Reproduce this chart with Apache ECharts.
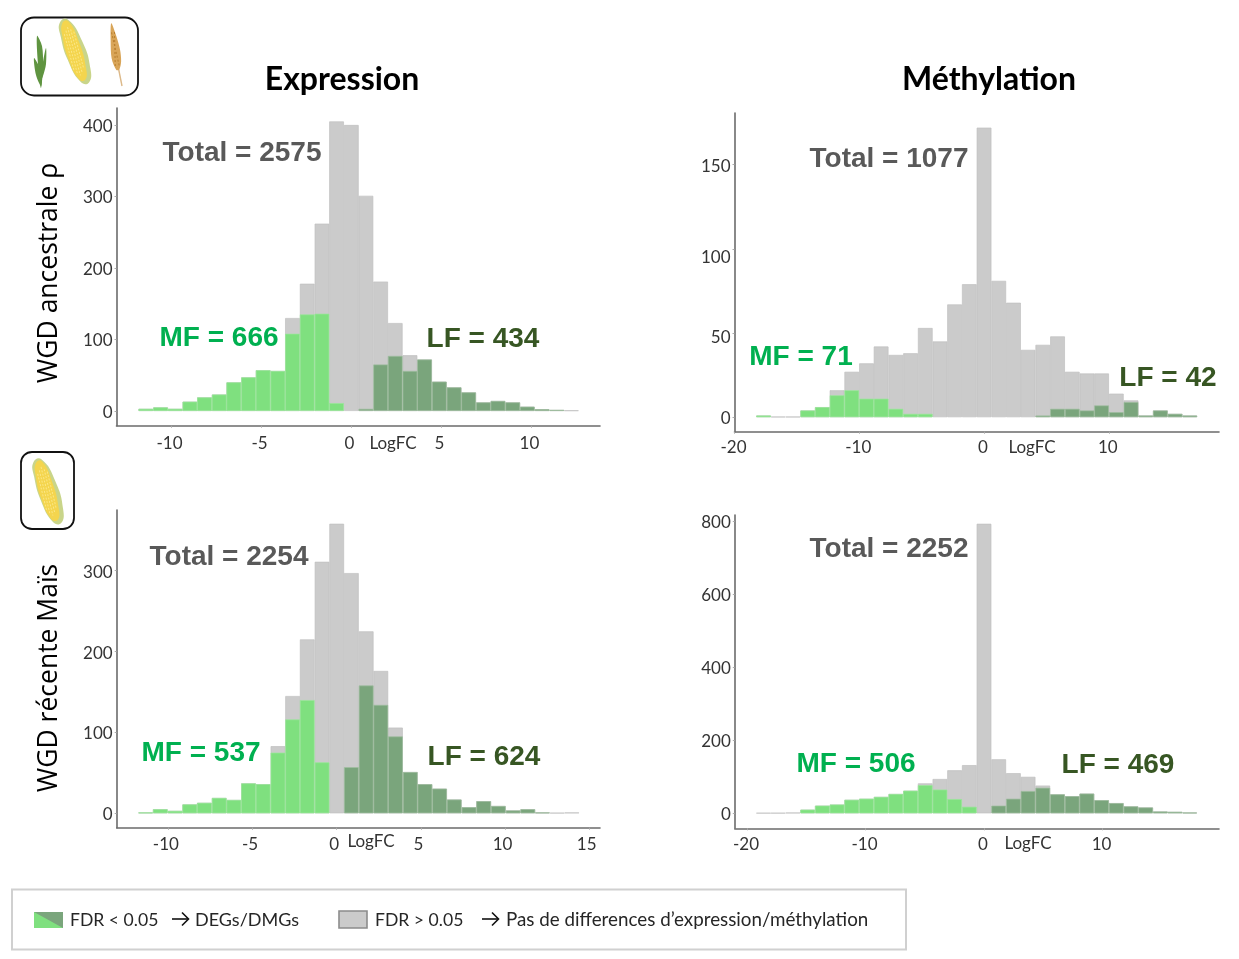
<!DOCTYPE html>
<html><head><meta charset="utf-8">
<style>html,body{margin:0;padding:0;background:#fff}#c{width:1239px;height:959px}</style>
<script src="https://cdn.jsdelivr.net/npm/echarts@6/dist/echarts.min.js"></script>
</head><body><div id="c"></div>
<script>
// ---- data (bin centre, all genes, significant MF, significant LF)
const binsA=[-11.43,-10.61,-9.80,-8.98,-8.17,-7.35,-6.54,-5.72,-4.91,-4.09,-3.28,-2.46,-1.64,-0.83,-0.01,0.80,1.62,2.43,3.25,4.06,4.88,5.70,6.51,7.33,8.14,8.96,9.77,10.59,11.41,12.22];
const totalA=[3,5,3,13,19,23,40,47,57,56,130,178,262,405,400,301,181,123,78,72,41,33,26,12,14,12,6,2.5,1.5,0.8];
const mfA=[3,5,3,13,19,23,40,47,57,56,108,135,136,11,null,null,null,null,null,null,null,null,null,null,null,null,null,null,null,null];
const lfA=[null,null,null,null,null,null,null,null,null,null,null,null,null,null,null,3,65,77,56,72,41,33,26,12,14,12,6,2.5,1.5,null];

const binsB=[-17.67,-16.49,-15.31,-14.13,-12.96,-11.78,-10.60,-9.42,-8.25,-7.07,-5.89,-4.71,-3.53,-2.36,-1.18,0,1.18,2.36,3.53,4.71,5.89,7.07,8.25,9.42,10.60,11.78,12.96,14.13,15.31,16.49];
const totalB=[1,0.3,0.3,4,6,16,27,32,42,37,38,53,45,67,79,172,81,68,40,43,48,27,26,26,14,10,1,4,2,1];
const mfB=[1,null,null,4,6,13,16,11,11,5,2,2,null,null,null,null,null,null,null,null,null,null,null,null,null,null,null,null,null,null];
const lfB=[null,null,null,null,null,null,null,null,null,null,null,null,null,null,null,null,null,null,null,1,5,5,4,7,3,9,1,4,2,1];

const binsC=[-11.35,-10.48,-9.60,-8.73,-7.86,-6.98,-6.11,-5.24,-4.37,-3.49,-2.62,-1.75,-0.87,0,0.87,1.75,2.62,3.49,4.37,5.24,6.11,6.98,7.86,8.73,9.60,10.48,11.35,12.22,13.10,13.97];
const totalC=[1,5,3,11,13,19,16.5,37,36,83,145,215,311,358,297,225,176,106,51,36,30.5,17,7.5,15,9,3.5,5,1,0.5,1];
const mfC=[1,5,3,11,13,19,16.5,37,36,75,116,140,63,null,null,null,null,null,null,null,null,null,null,null,null,null,null,null,null,null];
const lfC=[null,null,null,null,null,null,null,null,null,null,null,null,null,null,57,158,134,95,51,36,30.5,17,7.5,15,9,3.5,5,1,null,null];

const binsD=[-18.6,-17.36,-16.12,-14.88,-13.64,-12.4,-11.16,-9.92,-8.68,-7.44,-6.2,-4.96,-3.72,-2.48,-1.24,0,1.24,2.48,3.72,4.96,6.2,7.44,8.68,9.92,11.16,12.4,13.64,14.88,16.12,17.36];
const totalD=[1,1,2,10,21,24,37,40,45,53,62,82,94,118,132,793,148,110,100,76,52,47,54,36,28,19,16,5,4,2];
const mfD=[null,null,null,10,21,24,37,40,45,53,62,77,65,39,18,null,null,null,null,null,null,null,null,null,null,null,null,null,null,null];
const lfD=[null,null,null,null,null,null,null,null,null,null,null,null,null,null,null,null,21,40,61,70,52,47,54,36,28,19,16,5,4,2];

const xTicksA=[-10,-5,0,5,10], yTicksA=[0,100,200,300,400];
const xTicksB=[-20,-10,0,10],  yTicksB=[0,50,100,150];
const xTicksC=[-10,-5,0,5,10,15], yTicksC=[0,100,200,300];
const xTicksD=[-20,-10,0,10],  yTicksD=[0,200,400,600,800];

const columnTitles=['Expression','Méthylation'];
const rowTitles=['WGD ancestrale ρ','WGD récente Maïs'];
const totalsText=['Total = 2575','Total = 1077','Total = 2254','Total = 2252'];
const mfText=['MF = 666','MF = 71','MF = 537','MF = 506'];
const lfText=['LF = 434','LF = 42','LF = 624','LF = 469'];
const axisWord='LogFC';
const legendText=['FDR < 0.05','DEGs/DMGs','FDR > 0.05','Pas de differences d’expression/méthylation'];

// ---- styling
const GREY='#cbcbcb',GREEN='#7fe07f',DARK='#7aa57c';
const SANS='"Liberation Sans",Arial,sans-serif', CAL='Lato,"Open Sans",sans-serif';

const panels=[
 {bins:binsA,tot:totalA,mf:mfA,lf:lfA,xt:xTicksA,yt:yTicksA,l:116.5,t:108,r:600,b:425.7,x:[-13.06,13.81],y:[-20.6,423.8],shift:2,m:9},
 {bins:binsB,tot:totalB,mf:mfB,lf:lfB,xt:xTicksB,yt:yTicksB,l:734.5,t:113,r:1219,b:431.7,x:[-20,18.83],y:[-8.6,180.7],shift:1,m:7},
 {bins:binsC,tot:totalC,mf:mfC,lf:lfC,xt:xTicksC,yt:yTicksC,l:116.7,t:510,r:600,b:827.7,x:[-13.07,15.64],y:[-17.8,375],shift:2.5,m:8},
 {bins:binsD,tot:totalD,mf:mfD,lf:lfD,xt:xTicksD,yt:yTicksD,l:734.8,t:515,r:1219,b:828.3,x:[-21.03,19.83],y:[-41,817],shift:1,m:8}
];
const W=1239,H=959;
const pair=(bins,vals)=>bins.map((b,i)=>vals[i]==null?null:[b,vals[i]]).filter(Boolean);

const grid=[],xAxis=[],yAxis=[],series=[];
panels.forEach((p,i)=>{
  grid.push({left:p.l,top:p.t,width:p.r-p.l,height:p.b-p.t,containLabel:false});
  const line={show:true,onZero:false,lineStyle:{color:'#6b6b6b',width:1.6}};
  xAxis.push({type:'value',gridIndex:i,min:p.x[0],max:p.x[1],splitLine:{show:false},axisLine:line,
    axisTick:{show:true,length:2,lineStyle:{color:'#aaa'},customValues:p.xt},
    axisLabel:{customValues:p.xt,color:'#333',fontFamily:CAL,fontSize:17,margin:p.m,padding:[0,p.shift*2,0,0],hideOverlap:false,showMinLabel:true,showMaxLabel:true}});
  yAxis.push({type:'value',gridIndex:i,min:p.y[0],max:p.y[1],splitLine:{show:false},axisLine:line,
    axisTick:{show:true,length:2,lineStyle:{color:'#aaa'},customValues:p.yt},
    axisLabel:{customValues:p.yt,color:'#333',fontFamily:CAL,fontSize:17,margin:4,padding:[3,0,0,0],showMinLabel:true,showMaxLabel:true,
      formatter:(i===1)?(v=>v===100?'{s|100}':v===50?'{m|50}':String(v)):undefined,
      rich:{s:{padding:[14,0,0,0],fontFamily:CAL,fontSize:17,color:'#333'},m:{padding:[6,0,0,0],fontFamily:CAL,fontSize:17,color:'#333'}}}});
  const common={type:'bar',xAxisIndex:i,yAxisIndex:i,barWidth:14.7,barGap:'-100%',animation:false,silent:true};
  series.push({...common,name:'FDR > 0.05',data:pair(p.bins,p.tot),itemStyle:{color:GREY,borderColor:'#c0c0c0',borderWidth:0.7}});
  series.push({...common,name:'MF',data:pair(p.bins,p.mf),itemStyle:{color:GREEN,borderColor:'#9ae89a',borderWidth:0.7}});
  series.push({...common,name:'LF',data:pair(p.bins,p.lf),itemStyle:{color:DARK,borderColor:'#9dbd9e',borderWidth:0.7}});
});

const g=[];
const txt=(text,x,y,font,fill,rot)=>g.push({type:'text',x,y,rotation:rot||0,silent:true,style:{text,font,fill,align:'center',verticalAlign:'middle'}});
// titles
txt(columnTitles[0],342,80,'bold 32px '+CAL,'#000');
txt(columnTitles[1],989,80,'bold 32px '+CAL,'#000');
txt(rowTitles[0],49,273,'26.5px "Open Sans",sans-serif','#000',Math.PI/2);
txt(rowTitles[1],49,678,'26.5px "Open Sans",sans-serif','#000',Math.PI/2);
// annotations
const ann=[[[242,153],[219,338],[483,339]],[[889,159],[801,357],[1168,378]],[[229,557],[201,753],[484,757]],[[889,549],[856,764],[1118,765]]];
ann.forEach((a,i)=>{
  txt(totalsText[i],a[0][0],a[0][1],'bold 28px '+SANS,'#595959');
  txt(mfText[i],a[1][0],a[1][1],'bold 28px '+SANS,'#00b050');
  txt(lfText[i],a[2][0],a[2][1],'bold 28px '+SANS,'#375623');
});
// LogFC
[[393,444],[1032,448],[371,842],[1028,844]].forEach(c=>txt(axisWord,c[0],c[1],'17px '+CAL,'#333'));
// legend
g.push({type:'rect',silent:true,shape:{x:12,y:889.5,width:894,height:60},style:{fill:'#fff',stroke:'#d0d0d0',lineWidth:2}});
g.push({type:'polygon',silent:true,shape:{points:[[34,912],[63,912],[63,928],[34,928]]},style:{fill:GREEN}});
g.push({type:'polygon',silent:true,shape:{points:[[34,912],[63,912],[63,928]]},style:{fill:DARK}});
g.push({type:'rect',silent:true,shape:{x:339,y:911,width:28,height:17},style:{fill:GREY,stroke:'#8c8c8c',lineWidth:1.6}});
const ltxt=(t,x,s)=>g.push({type:'text',x,y:920,silent:true,style:{text:t,font:s+'px '+CAL,fill:'#262626',align:'left',verticalAlign:'middle'}});
ltxt(legendText[0],70,17.6);ltxt(legendText[1],195,18);ltxt(legendText[2],375,17.6);ltxt(legendText[3],506,18.8);
const arrow=(x)=>{g.push({type:'polyline',silent:true,shape:{points:[[x,919],[x+16,919]]},style:{stroke:'#111',lineWidth:1.6,fill:null}});
  g.push({type:'polyline',silent:true,shape:{points:[[x+10,912.5],[x+16.5,919],[x+10,925.5]]},style:{stroke:'#111',lineWidth:1.6,fill:null}});};
arrow(172);arrow(482);
// pictogram boxes
g.push({type:'rect',silent:true,shape:{x:21,y:17.5,width:117,height:78,r:13},style:{fill:'#fff',stroke:'#111',lineWidth:1.8}});
g.push({type:'rect',silent:true,shape:{x:21,y:452,width:53,height:77,r:11},style:{fill:'#fff',stroke:'#111',lineWidth:1.8}});
function corn(x,y,rot){
  const kids=[
    {type:'polygon',shape:{points:[[-9,-32],[2,-33],[12,-8],[13,20],[7,33],[-3,30],[-11,6],[-12,-18]],smooth:0.5},style:{fill:'#c9d58a'}},
    {type:'polygon',shape:{points:[[-6,-31],[2,-31],[8,-8],[8,18],[4,29],[-4,27],[-10,5],[-10,-18]],smooth:0.5},style:{fill:'#f4d54e'}}
  ];
  [-7,-4,-1,2,5].forEach(d=>kids.push({type:'line',shape:{x1:d,y1:-26+Math.abs(d+1),x2:d,y2:24-Math.abs(d+1)},style:{stroke:'#fbe88a',lineWidth:1.1,lineDash:[2,1.5]}}));
  g.push({type:'group',x,y,rotation:rot,scaleX:0.82,scaleY:1,silent:true,children:kids});
}
corn(75,52,0.26);corn(48,492,0.24);
// young plant
[[[41,88],[38,64],[37,36],[42,46],[43,66]],[[41,86],[36,75],[34,58],[39,66],[42,76]],[[41,80],[43,62],[46,48],[46,64],[43,76]]].forEach(p=>
  g.push({type:'polygon',silent:true,shape:{points:p,smooth:0.3},style:{fill:'#5f9440'}}));
// ear of wheat
g.push({type:'line',silent:true,shape:{x1:118,y1:66,x2:122,y2:86},style:{stroke:'#dcb98a',lineWidth:1.4}});
g.push({type:'polygon',silent:true,x:115,y:50,rotation:0.14,shape:{points:[[0,-27],[3,-15],[5,0],[4.5,12],[1.5,20],[-1.5,20],[-4.5,8],[-3,-10]],smooth:0.3},style:{fill:'#d9a558'}});
[[-1,-18,2,16],[2,-18,-2,16]].forEach(l=>g.push({type:'line',silent:true,x:115,y:50,rotation:0.14,shape:{x1:l[0],y1:l[1],x2:l[2],y2:l[3]},style:{stroke:'#b97f2f',lineWidth:1,lineDash:[2,2]}}));

const chart=echarts.init(document.getElementById('c'),null,{renderer:'canvas',width:W,height:H});
chart.setOption({animation:false,backgroundColor:'#fff',grid,xAxis,yAxis,series,graphic:{elements:g}});
</script></body></html>
